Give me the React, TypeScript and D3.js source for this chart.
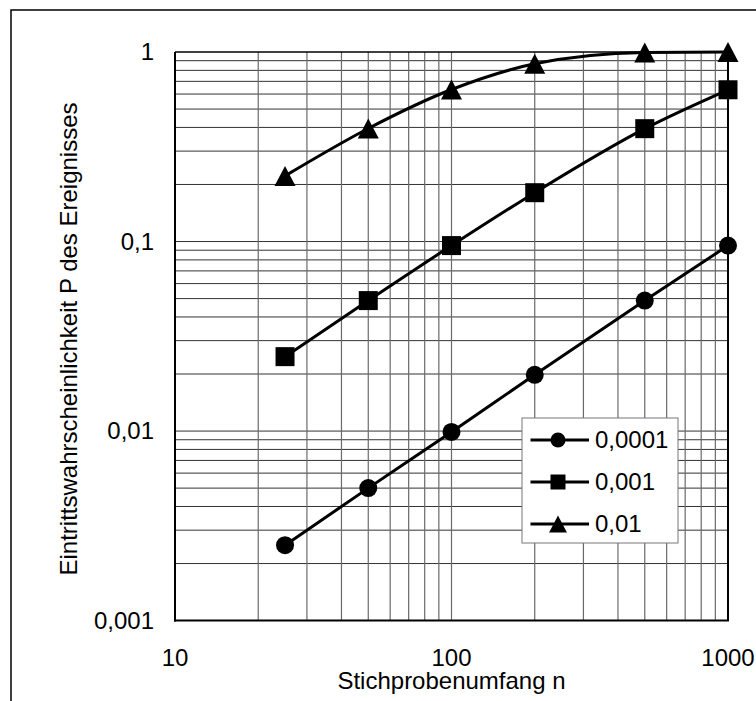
import React from "react";
import * as d3 from "d3";

const sampleSizes = [25, 50, 100, 200, 500, 1000];
const seriesNames = ["0,0001", "0,001", "0,01"];
const seriesP00001 = [0.0025, 0.005, 0.0099, 0.0198, 0.0488, 0.0952];
const seriesP0001 = [0.0247, 0.0488, 0.0952, 0.181, 0.394, 0.632];
const seriesP001 = [0.222, 0.395, 0.634, 0.866, 0.993, 1.0];
const xTickValues = [10, 100, 1000];
const xTickLabels = ["10", "100", "1000"];
const yTickValues = [0.001, 0.01, 0.1, 1];
const yTickLabels = ["0,001", "0,01", "0,1", "1"];
const xTitle = "Stichprobenumfang n";
const yTitle = "Eintrittswahrscheinlichkeit P des Ereignisses";

const FONT = "'Liberation Sans', Arial, sans-serif";

const L = 175, R = 728, T = 52, B = 620.6;

type MarkerKind = "circle" | "square" | "triangle";

function markerPath(kind: MarkerKind, cx: number, cy: number, s: number): string {
  if (kind === "circle") {
    const r = s / 2;
    return `M${cx - r},${cy}a${r},${r} 0 1,0 ${2 * r},0a${r},${r} 0 1,0 ${-2 * r},0Z`;
  }
  if (kind === "square") {
    const h = s / 2;
    return `M${cx - h},${cy - h}h${s}v${s}h${-s}Z`;
  }
  const h = s / 2;
  return `M${cx},${cy - h}L${cx + h * 1.05},${cy + h}L${cx - h * 1.05},${cy + h}Z`;
}

export default function App() {
  const x = d3.scaleLog().domain([10, 1000]).range([L, R]);
  const y = d3.scaleLog().domain([0.001, 1]).range([B, T]);

  const minorX: number[] = [];
  for (const dec of [10, 100]) for (let k = 2; k <= 9; k++) minorX.push(dec * k);
  const minorY: number[] = [];
  for (const dec of [0.001, 0.01, 0.1]) for (let k = 2; k <= 9; k++) minorY.push(dec * k);

  const series = [
    { name: seriesNames[0], values: seriesP00001, kind: "circle" as MarkerKind, size: 18, lsize: 15 },
    { name: seriesNames[1], values: seriesP0001, kind: "square" as MarkerKind, size: 19, lsize: 15 },
    { name: seriesNames[2], values: seriesP001, kind: "triangle" as MarkerKind, size: 20, lsize: 17 },
  ];

  const line = d3
    .line<[number, number]>()
    .x((d) => x(d[0]))
    .y((d) => y(d[1]))
    .curve(d3.curveMonotoneX);

  const legX = 522, legY = 418, legW = 156, legH = 125;

  return (
    <svg
      width={756}
      height={701}
      style={{ position: "absolute", left: 0, top: 0, background: "#fff" }}
      fontFamily={FONT}
    >
      <rect x={0} y={0} width={756} height={701} fill="#fff" />
      <rect x={11} y={10} width={760} height={720} fill="none" stroke="#000" strokeWidth={1.5} />

      {/* grid */}
      {minorY.concat([0.01, 0.1]).map((v, i) => (
        <line key={"gy" + i} x1={L} x2={R} y1={y(v)} y2={y(v)} stroke="#333" strokeWidth={1} />
      ))}
      {minorX.concat([100]).map((v, i) => (
        <line key={"gx" + i} x1={x(v)} x2={x(v)} y1={T} y2={B} stroke="#6a6a6a" strokeWidth={1.2} />
      ))}

      {/* plot border */}
      <line x1={L} x2={R} y1={T} y2={T} stroke="#000" strokeWidth={1.5} />
      <line x1={R} x2={R} y1={T} y2={B} stroke="#000" strokeWidth={2} />
      <line x1={L} x2={L} y1={T} y2={B + 1} stroke="#000" strokeWidth={2} />
      <line x1={L - 1} x2={R + 1} y1={B} y2={B} stroke="#000" strokeWidth={2} />

      {/* y tick labels */}
      {yTickValues.map((v, i) => (
        <text key={"yl" + i} x={154} y={y(v)} dy="0.35em" textAnchor="end" fontSize={24} fill="#000">
          {yTickLabels[i]}
        </text>
      ))}
      {/* x tick labels */}
      {xTickValues.map((v, i) => (
        <text key={"xl" + i} x={x(v)} y={666} textAnchor="middle" fontSize={24} fill="#000">
          {xTickLabels[i]}
        </text>
      ))}
      <text x={451.5} y={689} textAnchor="middle" fontSize={24} fill="#000">
        {xTitle}
      </text>
      <text
        transform={`translate(77,339) rotate(-90)`}
        textAnchor="middle"
        fontSize={24}
        fill="#000"
      >
        {yTitle}
      </text>

      {/* series */}
      {series.map((s, si) => {
        const pts = sampleSizes.map((n, i) => [n, s.values[i]] as [number, number]);
        return (
          <g key={"s" + si}>
            <path d={line(pts) || ""} fill="none" stroke="#000" strokeWidth={3} />
            {pts.map((p, i) => (
              <path key={i} d={markerPath(s.kind, x(p[0]), y(p[1]), s.size)} fill="#000" />
            ))}
          </g>
        );
      })}

      {/* legend */}
      <rect x={legX} y={legY} width={legW} height={legH} fill="#fff" stroke="#777" strokeWidth={1} />
      {series.map((s, i) => {
        const cy = 440 + i * 42;
        return (
          <g key={"lg" + i}>
            <line x1={530.5} x2={589} y1={cy} y2={cy} stroke="#000" strokeWidth={3} />
            <path d={markerPath(s.kind, 558, cy, s.lsize)} fill="#000" />
            <text x={595} y={cy} dy="0.35em" fontSize={24} fill="#000">
              {s.name}
            </text>
          </g>
        );
      })}
    </svg>
  );
}
